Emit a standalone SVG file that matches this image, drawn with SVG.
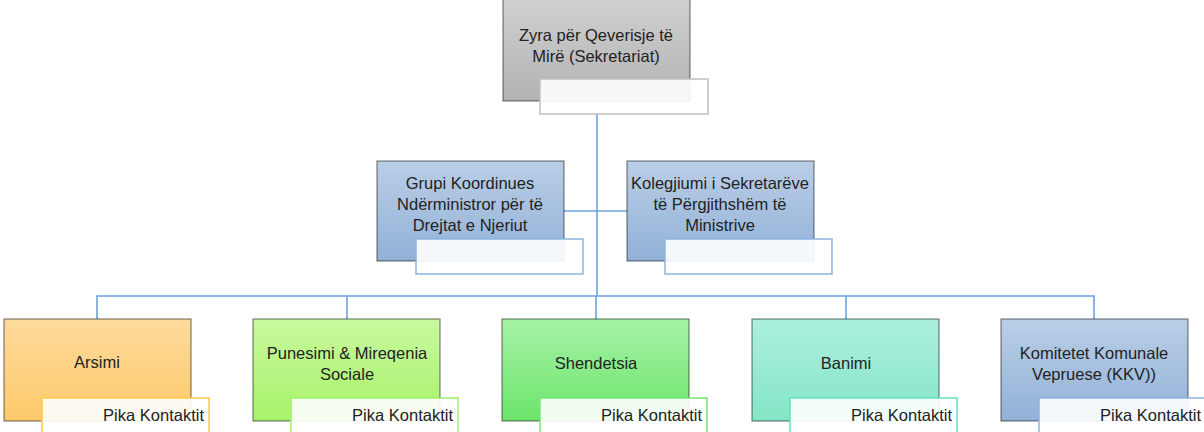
<svg xmlns="http://www.w3.org/2000/svg" width="1204" height="432" viewBox="0 0 1204 432">
<defs>
<linearGradient id="gGray" x1="0" y1="0" x2="0" y2="1"><stop offset="0" stop-color="#d0d0d0"/><stop offset="1" stop-color="#b2b2b2"/></linearGradient>
<linearGradient id="gBlue" x1="0" y1="0" x2="0" y2="1"><stop offset="0" stop-color="#bacee6"/><stop offset="1" stop-color="#92b1d8"/></linearGradient>
<linearGradient id="gOrange" x1="0" y1="0" x2="0" y2="1"><stop offset="0" stop-color="#fedb9c"/><stop offset="1" stop-color="#fdc96a"/></linearGradient>
<linearGradient id="gLime" x1="0" y1="0" x2="0" y2="1"><stop offset="0" stop-color="#c8f99e"/><stop offset="1" stop-color="#a7f26a"/></linearGradient>
<linearGradient id="gGreen" x1="0" y1="0" x2="0" y2="1"><stop offset="0" stop-color="#a6f2a6"/><stop offset="1" stop-color="#6ce46b"/></linearGradient>
<linearGradient id="gTeal" x1="0" y1="0" x2="0" y2="1"><stop offset="0" stop-color="#acefdf"/><stop offset="1" stop-color="#84e5c6"/></linearGradient>
</defs>
<style>
.box{stroke:#000;stroke-opacity:0.45;stroke-width:1.3}
.lbl{fill:#fff;fill-opacity:0.9;stroke-width:1.5}
.t{font-family:"Liberation Sans",Arial,sans-serif;font-size:16.5px;fill:#222;text-anchor:middle}
.pk{font-family:"Liberation Sans",Arial,sans-serif;font-size:16.5px;fill:#222;text-anchor:end}
.conn{fill:none;stroke:#6fa0dc;stroke-width:1.6}
</style>
<g id="connectors">
<path class="conn" d="M597 114 V296"/>
<path class="conn" d="M564 211 H627"/>
<path class="conn" d="M97 319 V296 H1094 V319"/>
<path class="conn" d="M347 296 V319 M596 296 V319 M846 296 V319"/>
</g>
<g id="n-top">
<rect class="box" x="503" y="-1" width="187" height="102" fill="url(#gGray)"/>
<text class="t" x="596" y="41">Zyra për Qeverisje të</text>
<text class="t" x="596" y="62">Mirë (Sekretariat)</text>
<rect class="lbl" x="540" y="79" width="168" height="35" stroke="#c0c0c0"/>
</g>
<g id="n-grupi">
<rect class="box" x="377" y="161" width="187" height="100" fill="url(#gBlue)"/>
<text class="t" x="470" y="189">Grupi Koordinues</text>
<text class="t" x="470" y="210">Ndërministror për të</text>
<text class="t" x="470" y="231">Drejtat e Njeriut</text>
<rect class="lbl" x="416" y="239" width="167" height="35" stroke="#8db4e2"/>
</g>
<g id="n-kolegjiumi">
<rect class="box" x="627" y="161" width="187" height="100" fill="url(#gBlue)"/>
<text class="t" x="720" y="189">Kolegjiumi i Sekretarëve</text>
<text class="t" x="720" y="210">të Përgjithshëm të</text>
<text class="t" x="720" y="231">Ministrive</text>
<rect class="lbl" x="665" y="239" width="167" height="35" stroke="#8db4e2"/>
</g>
<g id="n-arsimi">
<rect class="box" x="4" y="319" width="187" height="102" fill="url(#gOrange)"/>
<text class="t" x="97" y="368">Arsimi</text>
<rect class="lbl" x="42" y="398" width="167" height="40" stroke="#ffc94a"/>
<text class="pk" x="204" y="421">Pika Kontaktit</text>
</g>
<g id="n-punesimi">
<rect class="box" x="253" y="319" width="187" height="102" fill="url(#gLime)"/>
<text class="t" x="347" y="359">Punesimi &amp; Mireqenia</text>
<text class="t" x="347" y="380">Sociale</text>
<rect class="lbl" x="291" y="398" width="167" height="40" stroke="#a0f066"/>
<text class="pk" x="453" y="421">Pika Kontaktit</text>
</g>
<g id="n-shendetsia">
<rect class="box" x="502" y="319" width="187" height="102" fill="url(#gGreen)"/>
<text class="t" x="596" y="369">Shendetsia</text>
<rect class="lbl" x="540" y="398" width="167" height="40" stroke="#72e872"/>
<text class="pk" x="702" y="421">Pika Kontaktit</text>
</g>
<g id="n-banimi">
<rect class="box" x="752" y="319" width="187" height="102" fill="url(#gTeal)"/>
<text class="t" x="846" y="369">Banimi</text>
<rect class="lbl" x="790" y="398" width="167" height="40" stroke="#62e2c2"/>
<text class="pk" x="952" y="421">Pika Kontaktit</text>
</g>
<g id="n-komitetet">
<rect class="box" x="1001" y="319" width="187" height="102" fill="url(#gBlue)"/>
<text class="t" x="1094" y="359">Komitetet Komunale</text>
<text class="t" x="1094" y="380">Vepruese (KKV))</text>
<rect class="lbl" x="1039" y="398" width="167" height="40" stroke="#8db4e2"/>
<text class="pk" x="1201" y="421">Pika Kontaktit</text>
</g>
</svg>
